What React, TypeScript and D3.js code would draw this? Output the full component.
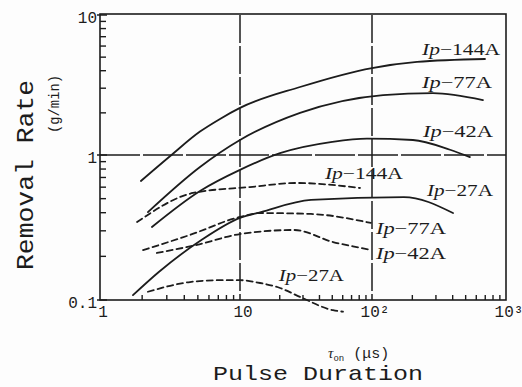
import React from 'react';
import * as d3 from 'd3';

// values: [pulse duration (µs), removal rate (g/min)]
const solid144: [number, number][] = [[1.96, 0.662], [3.16, 0.98], [5.18, 1.47], [7.2, 1.81], [10, 2.17], [28.5, 3.06], [100, 4.18], [217, 4.62], [697, 4.85]];
const solid77: [number, number][] = [[2.2, 0.404], [5.18, 0.827], [10, 1.28], [28.5, 2.0], [121, 2.68], [285, 2.77], [673, 2.47]];
const solid42: [number, number][] = [[2.35, 0.319], [5.18, 0.565], [10, 0.79], [20.1, 1.03], [50, 1.24], [91.6, 1.31], [202, 1.28], [382, 1.09], [538, 0.968]];
const solid27: [number, number][] = [[1.72, 0.108], [2.63, 0.156], [5.3, 0.259], [10, 0.368], [14.4, 0.404], [34.5, 0.49], [173, 0.513], [402, 0.398]];
const dashed144: [number, number][] = [[1.84, 0.345], [4.62, 0.547], [11.9, 0.601], [27, 0.641], [81.1, 0.592]];
const dashed77: [number, number][] = [[2.03, 0.221], [4.39, 0.281], [10, 0.374], [14.4, 0.398], [34.5, 0.392], [98, 0.34]];
const dashed42: [number, number][] = [[2.55, 0.211], [4.93, 0.24], [10, 0.285], [25.7, 0.304], [50.7, 0.251], [81, 0.229], [98, 0.221]];
const dashed27: [number, number][] = [[2.2, 0.114], [4.39, 0.133], [7.2, 0.137], [10, 0.137], [14.2, 0.131], [20.1, 0.121], [28.5, 0.105], [50.7, 0.085], [60.3, 0.083]];

const xTicks = [1, 10, 100, 1000];
const xTickLabels = ['1', '10', '10²', '10³'];
const yTicks = [0.1, 1, 10];
const yTickLabels = ['0.1', '1', '10'];

const series = [
  { data: solid144, dashed: false, label: '−144A', at: [236, 5.18], len: 78 },
  { data: solid77, dashed: false, label: '−77A', at: [236, 3.01], len: 70 },
  { data: solid42, dashed: false, label: '−42A', at: [240, 1.34], len: 70 },
  { data: solid27, dashed: false, label: '−27A', at: [257, 0.521], len: 66 },
  { data: dashed144, dashed: true, label: '−144A', at: [44, 0.683], len: 78 },
  { data: dashed77, dashed: true, label: '−77A', at: [107, 0.285], len: 70 },
  { data: dashed42, dashed: true, label: '−42A', at: [107, 0.192], len: 70 },
  { data: dashed27, dashed: true, label: '−27A', at: [19.7, 0.135], len: 65 },
];

const ink = '#1c1c1c';

export default function App() {
  const width = 522;
  const height = 387;

  // the scanned decades are not quite even, so piecewise log scales
  const x = d3.scaleLog().domain([1, 10, 100, 1000]).range([100, 240, 372, 506]);
  const y = d3.scaleLog().domain([0.1, 1, 10]).range([300, 155, 15]);

  const line = d3.line<[number, number]>()
    .x(d => x(d[0]))
    .y(d => y(d[1]))
    .curve(d3.curveMonotoneX);

  const xMinor = [2, 3, 4, 5, 6, 7, 8, 9].flatMap(m => [m, m * 10, m * 100]);
  const yMinor = [2, 3, 4, 5, 6, 7, 8, 9].flatMap(m => [m / 10, m]);

  const [x0, x1] = [x(1), x(1000)];
  const [y0, y1] = [y(0.1), y(10)];

  return (
    <svg width={width} height={height} style={{ position: 'absolute', left: 0, top: 0, background: '#fdfdfd' }}>
      {/* frame */}
      <rect x={x0} y={y1 - 1} width={x1 - x0} height={y0 - y1 + 1} fill="none" stroke={ink} strokeWidth={1.6} />
      {/* grid at 10, 100 and 1 */}
      {[10, 100].map(v => (
        <line key={v} x1={x(v)} x2={x(v)} y1={y1} y2={y0} stroke={ink} strokeWidth={1.5} strokeDasharray="28,3" />
      ))}
      <line x1={x0} x2={x1} y1={y(1)} y2={y(1)} stroke={ink} strokeWidth={1.5} strokeDasharray="40,3" />

      {/* minor ticks */}
      {xMinor.map(v => (
        <line key={'xm' + v} x1={x(v)} x2={x(v)} y1={y0} y2={y0 - 5} stroke={ink} strokeWidth={1.4} />
      ))}
      {yMinor.map(v => (
        <line key={'ym' + v} x1={x0} x2={x0 + 6} y1={y(v)} y2={y(v)} stroke={ink} strokeWidth={1.4} />
      ))}
      {yTicks.map(v => (
        <line key={'yM' + v} x1={x0 - 3} x2={x0 + 7} y1={y(v)} y2={y(v)} stroke={ink} strokeWidth={1.5} />
      ))}

      {/* tick labels */}
      <g fontFamily="Liberation Mono, monospace" fontSize={16} fill={ink}>
        {yTicks.map((v, i) => (
          <text key={'yl' + v} x={x0 - 3} y={y(v) + 8} textAnchor="end">{yTickLabels[i]}</text>
        ))}
        {xTicks.map((v, i) => (
          <text key={'xl' + v} x={x(v) + 3} y={y0 + 17} textAnchor="middle">{xTickLabels[i]}</text>
        ))}
      </g>

      {/* curves */}
      {series.map((s, i) => (
        <path key={i} d={line(s.data) ?? ''} fill="none" stroke={ink} strokeWidth={1.8}
          strokeDasharray={s.dashed ? '6,4' : undefined} strokeLinecap="round" />
      ))}

      {/* curve labels */}
      <g fontFamily="Liberation Serif, serif" fontSize={16} fill={ink}>
        {series.map((s, i) => (
          <text key={i} x={x(s.at[0])} y={y(s.at[1])} textLength={s.len} lengthAdjust="spacingAndGlyphs">
            <tspan fontStyle="italic">Ip</tspan>{s.label}
          </text>
        ))}
      </g>

      {/* axis titles */}
      <g fontFamily="Liberation Mono, monospace" fill={ink}>
        <text transform="translate(33,175) rotate(-90)" fontSize={24} textAnchor="middle" textLength={190} lengthAdjust="spacingAndGlyphs">Removal Rate</text>
        <text transform="translate(59,104) rotate(-90)" fontSize={14} textAnchor="middle" textLength={58} lengthAdjust="spacingAndGlyphs">(g/min)</text>
        <text x={318} y={380} fontSize={21} textAnchor="middle" textLength={210} lengthAdjust="spacingAndGlyphs">Pulse Duration</text>
        <text x={328} y={358} fontSize={15}>
          <tspan fontFamily="Liberation Serif, serif" fontStyle="italic">τ</tspan>
          <tspan fontSize={9} dy={3}>on</tspan>
          <tspan dy={-3}> (μs)</tspan>
        </text>
      </g>
    </svg>
  );
}
